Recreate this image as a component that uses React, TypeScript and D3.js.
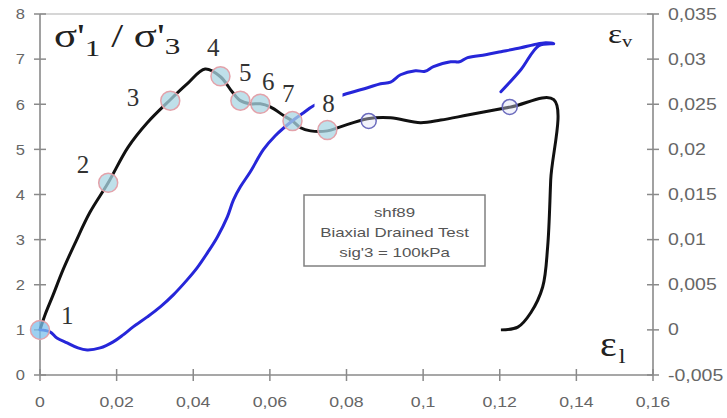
import React from "react";
import * as d3 from "d3";

// Stress ratio curve (axial strain, sigma'1/sigma'3)
const stressStrain = [0, 0.0013, 0.0034, 0.006, 0.0092, 0.013, 0.0178, 0.023, 0.028, 0.034, 0.0384, 0.0431, 0.0471, 0.0502, 0.0523, 0.0549, 0.0575, 0.0601, 0.0641, 0.0659, 0.068, 0.0706, 0.075, 0.0784, 0.0855, 0.0915, 0.0993, 0.1046, 0.1116, 0.1229, 0.1341, 0.1333, 0.1325, 0.1312, 0.1281, 0.1247, 0.1203];
const stressRatio = [1.0, 1.33, 1.77, 2.33, 2.93, 3.6, 4.26, 5.05, 5.59, 6.1, 6.45, 6.78, 6.61, 6.27, 6.08, 6.01, 6.01, 5.94, 5.72, 5.63, 5.48, 5.41, 5.41, 5.5, 5.68, 5.7, 5.59, 5.65, 5.76, 5.94, 6.1, 4.32, 2.84, 1.95, 1.38, 1.06, 1.0];

// Volumetric strain curve (axial strain, eps_v)
const volStrainX = [0, 0.0026, 0.0044, 0.0071, 0.0099, 0.0123, 0.0157, 0.0191, 0.0217, 0.0243, 0.028, 0.0314, 0.0348, 0.0384, 0.041, 0.0437, 0.0463, 0.0489, 0.0505, 0.0523, 0.0549, 0.0583, 0.0614, 0.0659, 0.0688, 0.0714, 0.0792, 0.0855, 0.0889, 0.0915, 0.0941, 0.098, 0.1005, 0.1027, 0.1072, 0.1095, 0.1116, 0.1163, 0.1203, 0.1255, 0.1289, 0.132, 0.1341, 0.1302, 0.1255, 0.1203];
const volStrain = [0, -0.00022, -0.00089, -0.00144, -0.002, -0.00222, -0.002, -0.00133, -0.00055, 0.00033, 0.00144, 0.00255, 0.00388, 0.00554, 0.00687, 0.00854, 0.0103, 0.01253, 0.01441, 0.01585, 0.01752, 0.01996, 0.02151, 0.02317, 0.02406, 0.02483, 0.02605, 0.02683, 0.02727, 0.02745, 0.02827, 0.02871, 0.02865, 0.02916, 0.02971, 0.0297, 0.03016, 0.03049, 0.03082, 0.03126, 0.0316, 0.03182, 0.03171, 0.03149, 0.02882, 0.02639];

// Numbered state markers
const markerLabels = ["1", "2", "3", "4", "5", "6", "7", "8"];
const markerX = [0, 0.0178, 0.034, 0.0471, 0.0523, 0.0575, 0.0659, 0.075];
const markerY = [1.0, 4.26, 6.08, 6.62, 6.08, 6.01, 5.63, 5.43];
// Label centres in data units
const labelX = [0.0071, 0.0112, 0.0243, 0.0452, 0.0536, 0.0596, 0.0648, 0.0753];
const labelY = [1.33, 4.66, 6.16, 7.27, 6.72, 6.5, 6.25, 6.03];

// Open markers
const openX = [0.0858, 0.1226];
const openY = [5.63, 5.94];

const xTicks = [0, 0.02, 0.04, 0.06, 0.08, 0.1, 0.12, 0.14, 0.16];
const leftTicks = [0, 1, 2, 3, 4, 5, 6, 7, 8];
const rightTicks = [-0.005, 0, 0.005, 0.01, 0.015, 0.02, 0.025, 0.03, 0.035];

const boxLines = ["shf89", "Biaxial Drained Test", "sig'3  = 100kPa"];

const fmt = (v: number) => {
  const s = String(+v.toFixed(3));
  return s.replace(".", ",");
};

export default function App() {
  const W = 727, H = 418;
  const x = d3.scaleLinear().domain([0, 0.16]).range([40, 653]);
  const yL = d3.scaleLinear().domain([0, 8]).range([375, 14]);
  const yR = d3.scaleLinear().domain([-0.005, 0.035]).range([375, 14]);

  const blackLine = d3.line<number>().x((d, i) => x(stressStrain[i])).y((d, i) => yL(stressRatio[i])).curve(d3.curveCatmullRom);
  const blueLine = d3.line<number>().x((d, i) => x(volStrainX[i])).y((d, i) => yR(volStrain[i])).curve(d3.curveCatmullRom);

  const axisColor = "#8a8a8a";
  const tickText = "#666";
  const sans = "'Liberation Sans', Arial, sans-serif";
  const serif = "'Liberation Serif', 'Times New Roman', serif";

  return (
    <svg width={W} height={H} style={{ position: "absolute", left: 0, top: 0, background: "#fff" }}>
      <rect x={0} y={0} width={W} height={H} fill="#fff" />
      {/* top border */}
      <line x1={x(0)} x2={x(0.16)} y1={yL(8)} y2={yL(8)} stroke="#c8c8c8" strokeWidth={1.5} />
      {/* axes */}
      <line x1={x(0)} x2={x(0)} y1={yL(0)} y2={yL(8)} stroke={axisColor} strokeWidth={1.6} />
      <line x1={x(0.16)} x2={x(0.16)} y1={yL(0)} y2={yL(8)} stroke={axisColor} strokeWidth={1.6} />
      <line x1={x(0)} x2={x(0.16)} y1={yL(0)} y2={yL(0)} stroke={axisColor} strokeWidth={1.6} />
      {leftTicks.map((t) => (
        <g key={"l" + t}>
          <line x1={x(0) - 6} x2={x(0) + 6} y1={yL(t)} y2={yL(t)} stroke={axisColor} strokeWidth={1.5} />
          <text transform={`translate(25,${yL(t)}) scale(1.1,1)`} dy="0.35em" textAnchor="end" fontFamily={sans} fontSize={15} fill={tickText}>{t}</text>
        </g>
      ))}
      {rightTicks.map((t) => (
        <g key={"r" + t}>
          <line x1={x(0.16) - 6} x2={x(0.16) + 6} y1={yR(t)} y2={yR(t)} stroke={axisColor} strokeWidth={1.5} />
          <text transform={`translate(668,${yR(t)}) scale(1.22,1)`} dy="0.35em" textAnchor="start" fontFamily={sans} fontSize={16} fill={tickText}>{fmt(t)}</text>
        </g>
      ))}
      {xTicks.map((t) => (
        <g key={"x" + t}>
          <line x1={x(t)} x2={x(t)} y1={yL(0) - 6} y2={yL(0) + 6} stroke={axisColor} strokeWidth={1.5} />
          <text transform={`translate(${x(t)},402) scale(1.18,1)`} dy="0.35em" textAnchor="middle" fontFamily={sans} fontSize={15} fill={tickText}>{fmt(t)}</text>
        </g>
      ))}

      {/* info box */}
      <rect x={304} y={195} width={181} height={71} fill="#fff" stroke="#808080" strokeWidth={1.5} />
      {boxLines.map((s, i) => (
        <text key={s} transform={`translate(394.5,${212 + i * 20}) scale(1.25,1)`} dy="0.35em" textAnchor="middle" fontFamily={sans} fontSize={13.5} fill="#555">{s}</text>
      ))}

      {/* curves */}
      <path d={blackLine(stressStrain) || ""} fill="none" stroke="#111" strokeWidth={3} strokeLinejoin="round" />
      <path d={blueLine(volStrainX) || ""} fill="none" stroke="#2626d9" strokeWidth={3} strokeLinejoin="round" strokeLinecap="round" />

      {/* markers */}
      {markerX.map((mx, i) => (
        <circle key={"m" + i} cx={x(mx)} cy={yL(markerY[i])} r={9.5} fill={i === 0 ? "#7cc0ec" : "#a9d5e3"} fillOpacity={0.75} stroke="#e3a2aa" strokeWidth={1.5} />
      ))}
      {openX.map((mx, i) => (
        <circle key={"o" + i} cx={x(mx)} cy={yL(openY[i])} r={7.5} fill="#dfe2f5" fillOpacity={0.4} stroke="#6b6bbd" strokeWidth={1.5} />
      ))}

      {/* labels */}
      {markerLabels.map((s, i) => (
        <g key={"t" + s}>
          {s === "8" && <rect x={x(labelX[i]) - 14} y={yL(labelY[i]) - 11} width={28} height={22} fill="#fff" />}
          <text x={x(labelX[i])} y={yL(labelY[i])} dy="0.35em" textAnchor="middle" fontFamily={serif} fontSize={25} fill="#333">{s}</text>
        </g>
      ))}

      {/* axis titles */}
      <text transform="translate(54,47) scale(1.3,1)" fontFamily={serif} fontSize={33} fill="#222">
        σ'<tspan fontSize={24} dy={9}>1</tspan><tspan dy={-9}> / σ'</tspan><tspan fontSize={24} dy={7}>3</tspan>
      </text>
      <text transform="translate(608,43) scale(1.2,1)" fontFamily={serif} fontSize={28} fill="#222">
        ε<tspan fontSize={17} dy={4}>v</tspan>
      </text>
      <text transform="translate(600,356) scale(1.1,1)" fontFamily={serif} fontSize={36} fill="#222">
        ε<tspan fontSize={22} dx={2} dy={7}>l</tspan>
      </text>
    </svg>
  );
}
